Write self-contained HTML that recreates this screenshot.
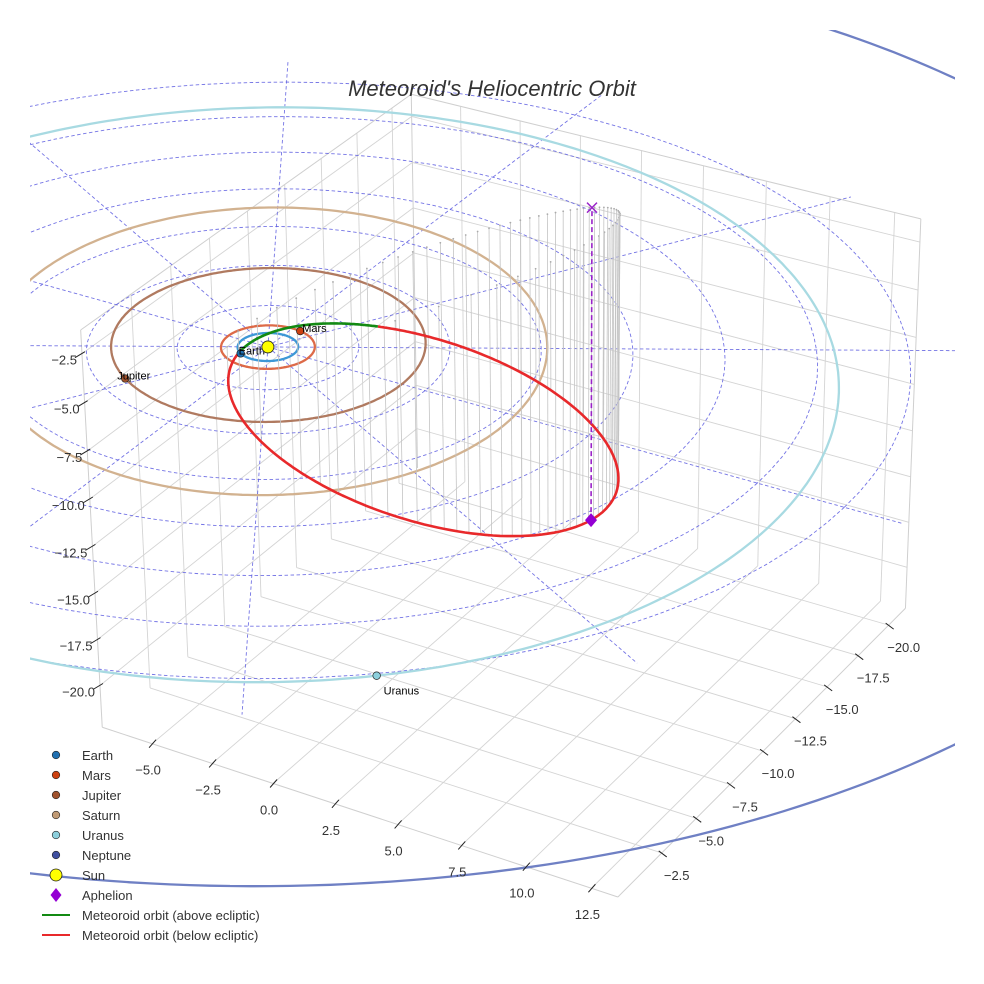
<!DOCTYPE html>
<html><head><meta charset="utf-8"><title>Meteoroid's Heliocentric Orbit</title>
<style>
html,body{margin:0;padding:0;background:#fff;}
svg{display:block;font-family:"Liberation Sans","DejaVu Sans",sans-serif;}
</style></head>
<body>
<svg id="chart" width="984" height="984" viewBox="0 0 984 984" xmlns="http://www.w3.org/2000/svg">
  <defs><clipPath id="plotclip"><rect x="30" y="30" width="925" height="930"/></clipPath></defs>
  <rect x="0" y="0" width="984" height="984" fill="#fff"/>
  <g id="box"></g>
  <g id="plot" clip-path="url(#plotclip)"></g>
  <g id="ticks"></g>
  <text x="492" y="96" text-anchor="middle" font-size="22" font-style="italic" fill="#333">Meteoroid's Heliocentric Orbit</text>
  <g id="legend"></g>
</svg>
<script>
// ---- data ----
const planetNames = ["Earth","Mars","Jupiter","Saturn","Uranus","Neptune"];
const planetSemiAlong = [1.0, 1.55, 5.5, 10.25, 20.0, 32.6];
const planetSemiAcross = [1.0, 1.55, 5.2, 9.2, 18.6, 31.6];
const planetCenterAlong = [0, 0, -0.3, -0.25, 1.2, -0.7];
const planetCenterAcross = [0, 0, 0, 0, 0, 0];
const planetPhaseDeg = [62, -138, 62, 90, -12, 190];
const planetColors = ["#1f6fb0","#cc4010","#a0522d","#c09a74","#8ccfdc","#3f4fa0"];
const orbitColors = ["#3d98d6","#dd6a48","#b07a60","#d2b290","#a8dae2","#6f80c4"];
const labelOffsets = [[-2,1],[2,1],[-8,1],[-2,1],[7,19],[-2,1]];
const gridRadii = [3,6,9,12,15,18,21];
const radialAnglesDeg = [0,30,60,90,120,150,180,210,240,270,300,330];
const meteorE = 0.9287;
const meteorQ = 0.833;
const meteorPerihelionDir = [-0.185, 0.649, 0.737];
const meteorTransverseDir = [0.624, -0.502, 0.599];
const xTicks = [-5,-2.5,0,2.5,5,7.5,10,12.5];
const yTicks = [-20,-17.5,-15,-12.5,-10,-7.5,-5,-2.5];
const zTicks = [-20,-17.5,-15,-12.5,-10,-7.5,-5,-2.5];
const XMIN=-7.1, XMAX=13.5, YMIN=-21.4, YMAX=0.6, ZMIN=-22.3, ZMAX=-1.3;
const ORBIT_AXIS_DEG = 60;

// ---- axis (camera) calibration ----
const calib = [
 [-5,YMAX,ZMIN,152,745,1],[-2.5,YMAX,ZMIN,216,765,1],[0,YMAX,ZMIN,275,786,1],[2.5,YMAX,ZMIN,339,806,1],
 [5,YMAX,ZMIN,400,827,1],[7.5,YMAX,ZMIN,464,847,1],[10,YMAX,ZMIN,530,868,1],[12.5,YMAX,ZMIN,593,889,1],
 [XMAX,-2.5,ZMIN,659,857,1],[XMAX,-5,ZMIN,690,820,1],[XMAX,-7.5,ZMIN,728,785,1],[XMAX,-10,ZMIN,759,751,1],
 [XMAX,-12.5,ZMIN,794,718,1],[XMAX,-15,ZMIN,828,685,1],[XMAX,-17.5,ZMIN,858,652,1],[XMAX,-20,ZMIN,889,620,1],
 [XMIN,YMAX,-2.5,84,352,1],[XMIN,YMAX,-5,86,401,1],[XMIN,YMAX,-7.5,88,449,1],[XMIN,YMAX,-10,90,497,1],
 [XMIN,YMAX,-12.5,92,545,1],[XMIN,YMAX,-15,94,591,1],[XMIN,YMAX,-17.5,96,639,1],[XMIN,YMAX,-20,98,684,1],
 [XMIN,YMAX,ZMIN,100,727,1],[XMAX,YMAX,ZMIN,619,895,1],[XMIN,YMAX,ZMAX,82,333,1],[XMIN,YMIN,ZMAX,398,102,1],
 [0,0,0,268,350,4],[18.19,-10.5,0,912,351,2],[10.39,-6,0,636,351,2],[-2.6,1.5,0,178,350,2],
 [-10.5,-18.19,0,290,76,2],[10.5,18.19,0,240,673,2],[6,10.39,0,253,524,2]
];
let H = null;
function fitCamera(){
  const N = Array.from({length:11},()=>new Array(11).fill(0));
  const b = new Array(11).fill(0);
  calib.forEach(c=>{
    const X=c[0]/20,Y=c[1]/20,Z=c[2]/20,u=(c[3]-490)/490,v=(c[4]-490)/490,w=c[5];
    const rows=[[[X,Y,Z,1,0,0,0,0,-u*X,-u*Y,-u*Z],u],[[0,0,0,0,X,Y,Z,1,-v*X,-v*Y,-v*Z],v]];
    rows.forEach(([r,rhs])=>{
      for(let i=0;i<11;i++){ b[i]+=w*r[i]*rhs; for(let j=0;j<11;j++) N[i][j]+=w*r[i]*r[j]; }
    });
  });
  for(let i=0;i<11;i++){
    let p=i; for(let k=i+1;k<11;k++) if(Math.abs(N[k][i])>Math.abs(N[p][i])) p=k;
    [N[i],N[p]]=[N[p],N[i]]; [b[i],b[p]]=[b[p],b[i]];
    for(let k=i+1;k<11;k++){ const f=N[k][i]/N[i][i]; for(let j=i;j<11;j++) N[k][j]-=f*N[i][j]; b[k]-=f*b[i]; }
  }
  const s=new Array(11).fill(0);
  for(let i=10;i>=0;i--){ let t=b[i]; for(let j=i+1;j<11;j++) t-=N[i][j]*s[j]; s[i]=t/N[i][i]; }
  H=s;
}
fitCamera();
function proj(x,y,z){
  const X=x/20,Y=y/20,Z=z/20;
  const d=H[8]*X+H[9]*Y+H[10]*Z+1;
  return [(H[0]*X+H[1]*Y+H[2]*Z+H[3])/d*490+490,(H[4]*X+H[5]*Y+H[6]*Z+H[7])/d*490+490];
}
function planetXY(i,tDeg){
  const a=ORBIT_AXIS_DEG*Math.PI/180, u=[Math.cos(a),Math.sin(a)], w=[-Math.sin(a),Math.cos(a)];
  const t=tDeg*Math.PI/180, A=planetSemiAlong[i], B=planetSemiAcross[i];
  const ca=planetCenterAlong[i]+A*Math.cos(t), cw=planetCenterAcross[i]+B*Math.sin(t);
  return [ca*u[0]+cw*w[0], ca*u[1]+cw*w[1]];
}
const NS="http://www.w3.org/2000/svg";
function mk(tag,attrs,parent){const e=document.createElementNS(NS,tag);for(const k in attrs)e.setAttribute(k,attrs[k]);parent.appendChild(e);return e;}
function pathOf(pts){return pts.map((p,i)=>(i?"L":"M")+p[0].toFixed(1)+" "+p[1].toFixed(1)).join(" ");}
const gBox=document.getElementById("box"), gPlot=document.getElementById("plot"), gTicks=document.getElementById("ticks"), gLeg=document.getElementById("legend");

// ---- box panes grid ----
function line3(a,b,stroke,w,parent,name){
  const p=proj(...a),q=proj(...b);
  const el=mk("line",{x1:p[0],y1:p[1],x2:q[0],y2:q[1],stroke:stroke,"stroke-width":w},parent);
  
  
  return el;
}
const gridC="#d4d4d4";
xTicks.forEach(t=>{ line3([t,YMIN,ZMIN],[t,YMAX,ZMIN],gridC,0.9,gBox,"floor-grid-x"); line3([t,YMIN,ZMIN],[t,YMIN,ZMAX],gridC,0.9,gBox,"back-grid-x"); });
yTicks.forEach(t=>{ line3([XMIN,t,ZMIN],[XMAX,t,ZMIN],gridC,0.9,gBox,"floor-grid-y"); line3([XMIN,t,ZMIN],[XMIN,t,ZMAX],gridC,0.9,gBox,"side-grid-y"); });
zTicks.forEach(t=>{ line3([XMIN,YMIN,t],[XMAX,YMIN,t],gridC,0.9,gBox,"back-grid-z"); line3([XMIN,YMIN,t],[XMIN,YMAX,t],gridC,0.9,gBox,"side-grid-z"); });
[[[XMIN,YMAX,ZMIN],[XMAX,YMAX,ZMIN]],[[XMAX,YMAX,ZMIN],[XMAX,YMIN,ZMIN]],[[XMIN,YMAX,ZMIN],[XMIN,YMAX,ZMAX]],
 [[XMIN,YMIN,ZMIN],[XMIN,YMIN,ZMAX]],[[XMAX,YMIN,ZMIN],[XMAX,YMIN,ZMAX]],[[XMIN,YMAX,ZMAX],[XMIN,YMIN,ZMAX]],[[XMIN,YMIN,ZMAX],[XMAX,YMIN,ZMAX]]]
 .forEach(s=>line3(s[0],s[1],"#cfcfcf",1,gBox,"box-edge"));

// ---- ticks & labels ----
function tickLabel(p,txt,anchor,dx,dy,name){
  const t=mk("text",{x:(p[0]+dx).toFixed(1),y:(p[1]+dy).toFixed(1),"text-anchor":anchor,"font-size":"13",fill:"#333"},gTicks);
  t.textContent=txt;
  
  
}
function fmt(v){return (v<0?"\u2212":"")+Math.abs(v).toFixed(1);}
xTicks.forEach(t=>{const p=proj(t,YMAX,ZMIN);
  const l=mk("line",{x1:p[0]-3,y1:p[1]+4,x2:p[0]+4,y2:p[1]-4,stroke:"#222","stroke-width":1},gTicks);
  
  
  tickLabel(p,fmt(t),"middle",-4,31,"x-tick-label");});
yTicks.forEach(t=>{const p=proj(XMAX,t,ZMIN);
  const l=mk("line",{x1:p[0]-3,y1:p[1]-2,x2:p[0]+5,y2:p[1]+4,stroke:"#222","stroke-width":1},gTicks);
  
  
  tickLabel(p,fmt(t),"middle",15,27,"y-tick-label");});
zTicks.forEach(t=>{const p=proj(XMIN,YMAX,t);
  const l=mk("line",{x1:p[0]-7,y1:p[1]+4,x2:p[0]+3,y2:p[1]-2,stroke:"#222","stroke-width":1},gTicks);
  
  
  tickLabel(p,fmt(t),"end",-5,11,"z-tick-label");});

// ---- ecliptic dashed grid ----
const dashC="#5c5ce0";
gridRadii.forEach(r=>{
  const pts=[];for(let a=0;a<=360;a+=3){const t=a*Math.PI/180;pts.push(proj(r*Math.cos(t),r*Math.sin(t),0));}
  const el=mk("path",{d:pathOf(pts),fill:"none",stroke:dashC,"stroke-width":0.9,"stroke-dasharray":"3.5 2.5",opacity:0.85},gPlot);
  
  
});
radialAnglesDeg.forEach(a=>{
  const t=a*Math.PI/180;const p=proj(0,0,0),q=proj(23*Math.cos(t),23*Math.sin(t),0);
  const el=mk("line",{x1:p[0],y1:p[1],x2:q[0],y2:q[1],stroke:dashC,"stroke-width":0.9,"stroke-dasharray":"3.5 2.5",opacity:0.85},gPlot);
  
  
});

// ---- planet orbits ----
planetNames.forEach((nm,i)=>{
  const pts=[];for(let a=0;a<=360;a+=1){const q=planetXY(i,a);pts.push(proj(q[0],q[1],0));}
  const el=mk("path",{d:pathOf(pts),fill:"none",stroke:orbitColors[i],"stroke-width":2.3},gPlot);
  
  
});

// ---- meteoroid orbit ----
function meteorPoint(nu){
  const p=meteorQ*(1+meteorE), r=p/(1+meteorE*Math.cos(nu));
  const c=Math.cos(nu), s=Math.sin(nu);
  return [0,1,2].map(k=>r*(c*meteorPerihelionDir[k]+s*meteorTransverseDir[k]));
}
function nuFromM(M){
  let E=M; for(let k=0;k<50;k++){E=E-(E-meteorE*Math.sin(E)-M)/(1-meteorE*Math.cos(E));}
  return 2*Math.atan2(Math.sqrt(1+meteorE)*Math.sin(E/2),Math.sqrt(1-meteorE)*Math.cos(E/2));
}
for(let k=0;k<60;k++){
  const nu=nuFromM(-Math.PI+(k+0.5)*2*Math.PI/60);
  const P=meteorPoint(nu); if(P[2]>=0) continue;
  const a=proj(P[0],P[1],P[2]), b=proj(P[0],P[1],0);
  const el=mk("line",{x1:a[0],y1:a[1],x2:b[0],y2:b[1],stroke:"#c4c4c4","stroke-width":0.8},gPlot);
  
  
  const d=mk("circle",{cx:b[0],cy:b[1],r:0.9,fill:"#aaa"},gPlot);
  
  
}
{
  let seg=[],above=null;
  const flush=()=>{ if(seg.length>1){const el=mk("path",{d:pathOf(seg),fill:"none",stroke:above?"#138a13":"#e8292b","stroke-width":2.6,"stroke-linejoin":"round"},gPlot);
    
    } };
  for(let a=-180;a<=180;a+=0.5){
    const P=meteorPoint(a*Math.PI/180), ab=P[2]>=0, s=proj(...P);
    if(above===null) above=ab;
    if(ab!==above){ seg.push(s); flush(); seg=[s]; above=ab; } else seg.push(s);
  }
  flush();
}
{
  const A=meteorPoint(Math.PI), a=proj(...A), g=proj(A[0],A[1],0);
  let el=mk("line",{x1:a[0],y1:a[1],x2:g[0],y2:g[1],stroke:"#9a22c8","stroke-width":1.6,"stroke-dasharray":"5 3"},gPlot);
  
  
  el=mk("path",{d:`M${g[0]-5} ${g[1]-5}L${g[0]+5} ${g[1]+5}M${g[0]-5} ${g[1]+5}L${g[0]+5} ${g[1]-5}`,stroke:"#9a22c8","stroke-width":1.5},gPlot);
  
  
  el=mk("path",{d:`M${a[0]} ${a[1]-7}L${a[0]+6} ${a[1]}L${a[0]} ${a[1]+7}L${a[0]-6} ${a[1]}Z`,fill:"#9400d3"},gPlot);
  
  
}
planetNames.forEach((nm,i)=>{
  const q=planetXY(i,planetPhaseDeg[i]), p=proj(q[0],q[1],0);
  const c=mk("circle",{cx:p[0],cy:p[1],r:3.8,fill:planetColors[i],stroke:"#222","stroke-width":0.7},gPlot);
  
  
  const tx=mk("text",{x:p[0]+labelOffsets[i][0],y:p[1]+labelOffsets[i][1],"font-size":"11",fill:"#000"},gPlot);
  tx.textContent=nm;
  
  
});
{
  const s=proj(0,0,0);
  const c=mk("circle",{cx:s[0],cy:s[1],r:6,fill:"#ffff00",stroke:"#222","stroke-width":0.8},gPlot);
  
  
}

// ---- legend ----
const legendLabels = ["Earth","Mars","Jupiter","Saturn","Uranus","Neptune","Sun","Aphelion","Meteoroid orbit (above ecliptic)","Meteoroid orbit (below ecliptic)"];
legendLabels.forEach((lab,i)=>{
  const y=755+i*20, x=56;
  let m;
  if(i<6) m=mk("circle",{cx:x,cy:y,r:3.8,fill:planetColors[i],stroke:"#222","stroke-width":0.6},gLeg);
  else if(i===6) m=mk("circle",{cx:x,cy:y,r:6,fill:"#ffff00",stroke:"#222","stroke-width":0.8},gLeg);
  else if(i===7) m=mk("path",{d:`M${x} ${y-7}L${x+5.5} ${y}L${x} ${y+7}L${x-5.5} ${y}Z`,fill:"#9400d3"},gLeg);
  else m=mk("line",{x1:42,y1:y,x2:70,y2:y,stroke:i===8?"#138a13":"#e8292b","stroke-width":2},gLeg);
  
  
  const t=mk("text",{x:82,y:y+5,"font-size":"13",fill:"#333"},gLeg);
  t.textContent=lab;
  
  
});
</script>
</body></html>
